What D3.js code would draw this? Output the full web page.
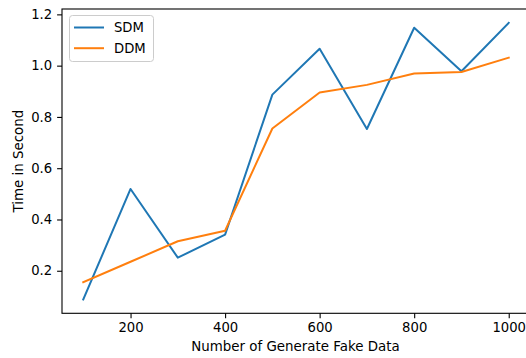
<!DOCTYPE html>
<html><head><meta charset="utf-8">
<script src="https://cdn.jsdelivr.net/npm/d3@7"></script>
<style>
body{margin:0;background:#fff;}
text{font-family:"DejaVu Sans",sans-serif;fill:#000;}
</style></head>
<body>
<svg id="c" width="526" height="358"></svg>
<script>
const xValues = [100,200,300,400,500,600,700,800,900,1000];
const sdm = [0.088,0.519,0.251,0.341,0.887,1.066,0.753,1.148,0.978,1.167];
const ddm = [0.155,0.235,0.315,0.356,0.755,0.895,0.925,0.969,0.975,1.031];
const seriesNames = ["SDM","DDM"];
const colors = ["#1f77b4","#ff7f0e"];
const xTicks = [200,400,600,800,1000];
const yTicks = [0.2,0.4,0.6,0.8,1.0,1.2];

(function(){
const svg = d3.select("#c");
const pl=62, pr=530, pt=9, pb=313.3;
const xmin=d3.min(xValues), xmax=d3.max(xValues);
const xm=(xmax-xmin)*0.05;
const all=sdm.concat(ddm);
const ymin=d3.min(all), ymax=d3.max(all), ym=(ymax-ymin)*0.05;
const x=d3.scaleLinear().domain([xmin-xm,xmax+xm]).range([pl,pr]);
const y=d3.scaleLinear().domain([ymin-ym,ymax+ym]).range([pb,pt]);

const line=d3.line().x((d,i)=>x(xValues[i])).y(d=>y(d));
[sdm,ddm].forEach((s,k)=>{
  svg.append("path").datum(s).attr("d",line).attr("fill","none")
    .attr("stroke",colors[k]).attr("stroke-width",2).attr("stroke-linejoin","round").attr("stroke-linecap","square");
});

const fs=13.4;
const xa=svg.append("g").attr("transform",`translate(0,${pb})`)
  .call(d3.axisBottom(x).tickValues(xTicks).tickFormat(d3.format("d")).tickSizeOuter(0).tickSize(4.9).tickPadding(4.9));
const ya=svg.append("g").attr("transform",`translate(${pl},0)`)
  .call(d3.axisLeft(y).tickValues(yTicks).tickFormat(d3.format(".1f")).tickSizeOuter(0).tickSize(4.9).tickPadding(4.9));
[xa,ya].forEach(a=>{
  a.selectAll("text").style("font-size","13.2px").style("font-family","DejaVu Sans");
  a.selectAll("line").attr("stroke","#000").attr("stroke-width",1.1);
  a.select(".domain").remove();
});
svg.append("rect").attr("x",pl).attr("y",pt).attr("width",pr-pl).attr("height",pb-pt)
  .attr("fill","none").attr("stroke","#000").attr("stroke-width",1.1);

svg.append("text").attr("x",295.5).attr("y",351).attr("text-anchor","middle")
  .style("font-size",fs+"px").text("Number of Generate Fake Data");
svg.append("text").attr("transform",`translate(22.7,${(pt+pb)/2}) rotate(-90)`).attr("text-anchor","middle")
  .style("font-size",fs+"px").text("Time in Second");

const lg=svg.append("g");
lg.append("rect").attr("x",69.5).attr("y",15.5).attr("width",84).attr("height",46).attr("rx",3)
  .attr("fill","#fff").attr("fill-opacity",0.8).attr("stroke","#ccc").attr("stroke-width",1);
seriesNames.forEach((n,k)=>{
  const yy=27.5+k*20.7;
  lg.append("line").attr("x1",74).attr("x2",104).attr("y1",yy).attr("y2",yy).attr("stroke",colors[k]).attr("stroke-width",2);
  lg.append("text").attr("x",114).attr("y",yy).attr("dy","0.35em").style("font-size","13.2px").text(n);
});
})();
</script>
</body></html>
